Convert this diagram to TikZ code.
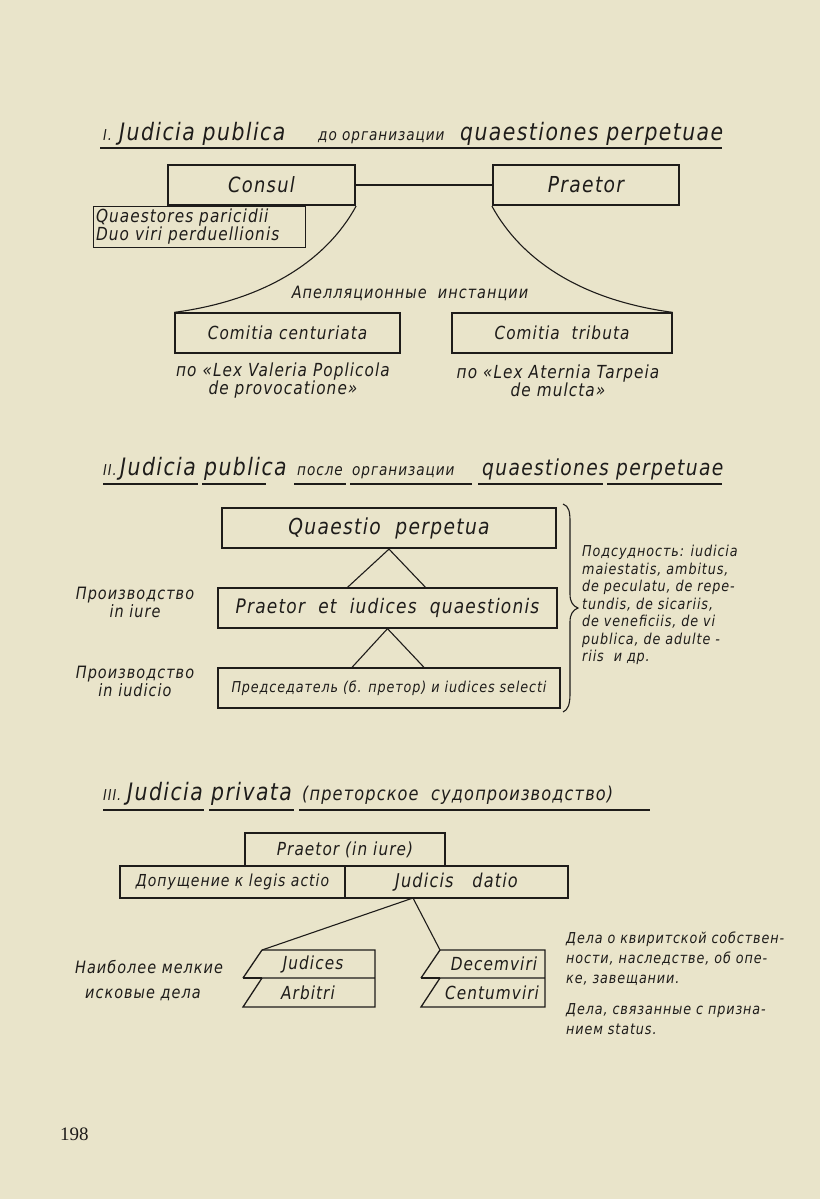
\documentclass[tikz,border=0pt]{standalone}
\usepackage{fontspec}
\setmainfont{DejaVu Sans}[FakeStretch=0.85, LetterSpace=6]
\newfontfamily\pnum{Liberation Serif}
\definecolor{paper}{RGB}{233,228,202}
\definecolor{ink}{RGB}{30,28,26}
\newcommand\fs[2]{\itshape\fontsize{#1}{#2}\selectfont}
\begin{document}
\begin{tikzpicture}[x=1pt,y=-1pt,
  every node/.style={text=ink, inner sep=0pt},
  box/.style={draw=ink, line width=1.3pt, font=\fs{18}{21}},
  thickbox/.style={box, line width=2.2pt},
  lbl/.style={font=\fs{15}{17.5}, align=left},
  big/.style={font=\fs{24}{26}, anchor=base west},
  small/.style={font=\fs{16}{18}, anchor=base west},
  num/.style={font=\fs{15}{16}, anchor=base west},
  ln/.style={draw=ink, line width=1.1pt}]
\fill[paper] (0,0) rectangle (820,1199);
\useasboundingbox (0,0) rectangle (820,1199);

% ---------- Section I ----------
\node[num] (t1a) at (103,140) {I.};
\node[big] (t1b) at (119,140) {Judicia publica};
\node[small] (t1c) at (318,140) {до организации};
\node[big] (t1d) at (460,140) {quaestiones perpetuae};
\draw[ln] (100,148) -- (722,148);

\node[thickbox, minimum width=187pt, minimum height=40pt, font=\fs{21}{24}] (consul) at (261.5,185) {Consul};
\node[thickbox, minimum width=186pt, minimum height=40pt, font=\fs{22}{24}] (praetor) at (586,185) {Praetor};
\draw[ln] (consul.east) -- (praetor.west);
\node[box, line width=1pt, text width=206pt, inner xsep=3pt, minimum height=41pt, align=left, font=\fs{18}{18}] (quaest) at (199,226.5) {Quaestores paricidii\\Duo viri perduellionis};

\node[box, minimum width=225pt, minimum height=40pt] (cc) at (287.5,333) {Comitia centuriata};
\node[box, minimum width=220pt, minimum height=40pt] (ct) at (562,333) {Comitia \ tributa};
\draw[ln] (consul.south east) .. controls +(-30,55) and +(90,-12) .. (cc.north west);
\draw[ln] (praetor.south west) .. controls +(30,55) and +(-90,-12) .. (ct.north east);
\node[lbl, font=\fs{17}{19}] (apel) at (410,293) {Апелляционные \ инстанции};
\node[lbl, align=center, font=\fs{18}{18}] (lexv) at (283,381) {по «Lex Valeria Poplicola\\de provocatione»};
\node[lbl, align=center, font=\fs{18}{18}] (lexa) at (558,381) {по «Lex Aternia Tarpeia\\de mulcta»};

% ---------- Section II ----------
\node[num] (t2a) at (103,475) {II.};
\node[big] (t2b) at (120,475) {Judicia};
\node[big] (t2c) at (204,475) {publica};
\node[small] (t2d) at (297,475) {после};
\node[small] (t2e) at (352,475) {организации};
\node[big, font=\fs{22}{24}] (t2f) at (482,475) {quaestiones perpetuae};
\draw[ln] (103,484) -- (198,484) (202,484) -- (266,484) (294,484) -- (346,484)
          (350,484) -- (472,484) (478,484) -- (603,484) (607,484) -- (722,484);

\node[thickbox, minimum width=334pt, minimum height=40pt, font=\fs{22}{24}] (qp) at (389,528) {Quaestio \ perpetua};
\node[box, minimum width=339pt, minimum height=40pt, font=\fs{20}{24}] (piq) at (387.5,608) {Praetor \ et \ iudices \ quaestionis};
\node[box, minimum width=342pt, minimum height=40pt, font=\fs{15}{19}] (pred) at (389,688) {Председатель (б. претор) и iudices selecti};
\draw[ln] ([xshift=-40pt]piq.north) -- (qp.south) -- ([xshift=38pt]piq.north);
\draw[ln] ([xshift=-37pt]pred.north) -- (piq.south) -- ([xshift=35pt]pred.north);

\node[lbl, align=center, font=\fs{17}{18}] (pr1) at (135,602) {Производство\\in iure};
\node[lbl, align=center, font=\fs{17}{18}] (pr2) at (135,681) {Производство\\in iudicio};

\draw[ln, line width=1.1pt] (563,504) .. controls (569,506) and (570,512) .. (570,522) -- (570,594)
   .. controls (570,602) and (573,606) .. (578,608)
   .. controls (573,610) and (570,614) .. (570,622) -- (570,694)
   .. controls (570,704) and (568,710) .. (563,712);
\node[lbl, anchor=north west] (pods) at (582,545) {Подсудность: iudicia\\maiestatis, ambitus,\\de peculatu, de repe-\\tundis, de sicariis,\\de veneficiis, de vi\\publica, de adulte -\\riis \ и др.};

% ---------- Section III ----------
\node[num] (t3a) at (103,800) {III.};
\node[big] (t3b) at (127,800) {Judicia};
\node[big] (t3c) at (211,800) {privata};
\node[small, font=\fs{19}{20}] (t3d) at (302,800) {(преторское \ судопроизводство)};
\draw[ln] (103,810) -- (204,810) (209,810) -- (294,810) (299,810) -- (650,810);

\node[box, line width=1.7pt, minimum width=200pt, minimum height=33pt, font=\fs{18}{20}] (pii) at (345,849.5) {Praetor (in iure)};
\node[box, minimum width=225pt, minimum height=32pt, font=\fs{16.5}{20}] (dop) at (232.5,882) {Допущение к legis actio};
\node[box, minimum width=223pt, minimum height=32pt, font=\fs{19}{20}] (jd) at (456.5,882) {Judicis \ \ datio};

\coordinate (fork) at (413,898);
\coordinate (jtl) at (262,950);
\coordinate (dtl) at (440,950);
\draw[ln] (jtl) -- (fork) -- (dtl);

% Judices / Arbitri
\draw[ln, line width=1.3pt] (jtl) -- (375,950) -- (375,1007) -- (243,1007) -- (262,978) -- (375,978)
   (243,978) -- (jtl);
\draw[ln, line width=1.3pt] (243,978) -- (262,978);
% Decemviri / Centumviri
\draw[ln, line width=1.3pt] (dtl) -- (545,950) -- (545,1007) -- (421,1007) -- (440,978) -- (545,978)
   (421,978) -- (dtl);
\draw[ln, line width=1.3pt] (421,978) -- (440,978);

\node[lbl, font=\fs{18}{21}] (jud) at (313,964) {Judices};
\node[lbl, font=\fs{18}{21}] (arb) at (308,993) {Arbitri};
\node[lbl, font=\fs{18}{21}] (dec) at (494,964) {Decemviri};
\node[lbl, font=\fs{18}{21}] (cen) at (492,993) {Centumviri};

\node[lbl, anchor=west, font=\fs{17}{18}] (nm1) at (75,967) {Наиболее мелкие};
\node[lbl, anchor=west, font=\fs{17}{18}] (nm2) at (85,995) {исковые дела};

\node[lbl, anchor=north west, font=\fs{15}{20}] (dk) at (566,932) {Дела о квиритской собствен-\\ности, наследстве, об опе-\\ке, завещании.};
\node[lbl, anchor=north west, font=\fs{15}{20}] (ds) at (566,1003) {Дела, связанные с призна-\\нием status.};

\node[anchor=base west, font=\pnum\fontsize{19}{20}\selectfont] (pg) at (60,1140) {198};
\end{tikzpicture}
\end{document}
